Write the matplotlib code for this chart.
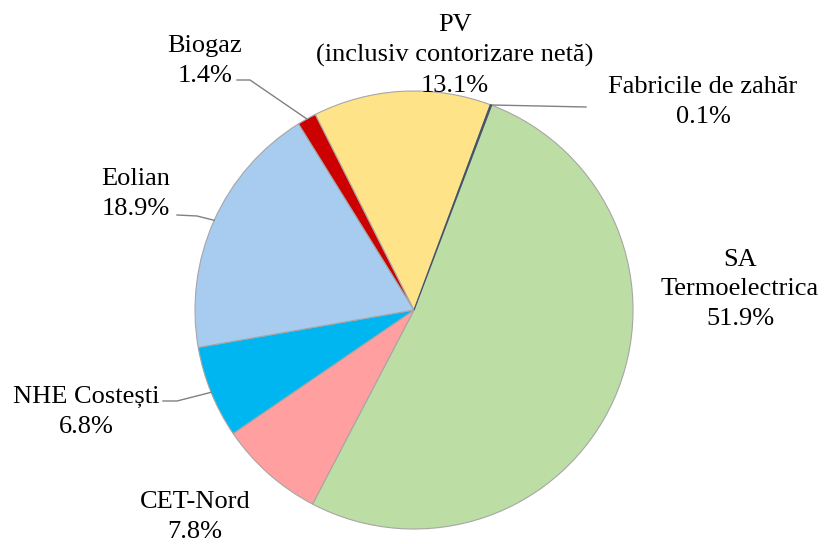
import numpy as np
import matplotlib
matplotlib.use("Agg")
import matplotlib.pyplot as plt

# slices, clockwise starting near 12 o'clock
labels = ["Fabricile de zahăr", "SA\nTermoelectrica", "CET-Nord", "NHE Costești",
          "Eolian", "Biogaz", "PV\n(inclusiv contorizare netă)"]
shares = [0.1, 51.9, 7.8, 6.8, 18.9, 1.4, 13.1]
colors = ["#44546A", "#BCDEA5", "#FF9F9F", "#00B6F0", "#A8CBF0", "#CC0000", "#FFE388"]

W, H = 824, 544
CX, CY, R = 414, 310, 219

# label layout in pixels (x centre, baseline of the last line) and leader elbows
label_pos = [(703, 123), (740, 325), (195, 538), (86, 433), (136, 215), (205, 82), (455, 92)]
leaders = {0: [(586, 107)], 3: [(177, 401), (163, 401)],
           4: [(197, 216), (177, 215)], 5: [(250, 80), (237, 80)]}

plt.rcParams["font.family"] = ["Liberation Serif", "DejaVu Serif"]

fig = plt.figure(figsize=(W / 100, H / 100), dpi=100)
ax = fig.add_axes([0, 0, 1, 1])

wedges, _ = ax.pie(shares, colors=colors, startangle=69.6, counterclock=False,
                   center=(CX, H - CY), radius=R, frame=True,
                   wedgeprops=dict(edgecolor="#A6A6A6", linewidth=0.8))
# the tiny slice would vanish under the grey outline otherwise
wedges[0].set_edgecolor(colors[0])
wedges[0].set_zorder(3)
ax.set_xlim(0, W)
ax.set_ylim(0, H)
ax.set_aspect("equal")
ax.axis("off")

for i, (w, lab, val) in enumerate(zip(wedges, labels, shares)):
    x, y = label_pos[i]
    ax.text(x, H - y, f"{lab}\n{val:.1f}%", ha="center", va="baseline",
            multialignment="center", fontsize=19, linespacing=1.45, color="black")
    if i in leaders:
        mid = np.deg2rad((w.theta1 + w.theta2) / 2)
        pts = [(CX + R * np.cos(mid), H - CY + R * np.sin(mid))]
        pts += [(px, H - py) for px, py in leaders[i]]
        xs, ys = zip(*pts)
        ax.plot(xs, ys, color="#808080", lw=1)

fig.savefig("out.png", dpi=100)
